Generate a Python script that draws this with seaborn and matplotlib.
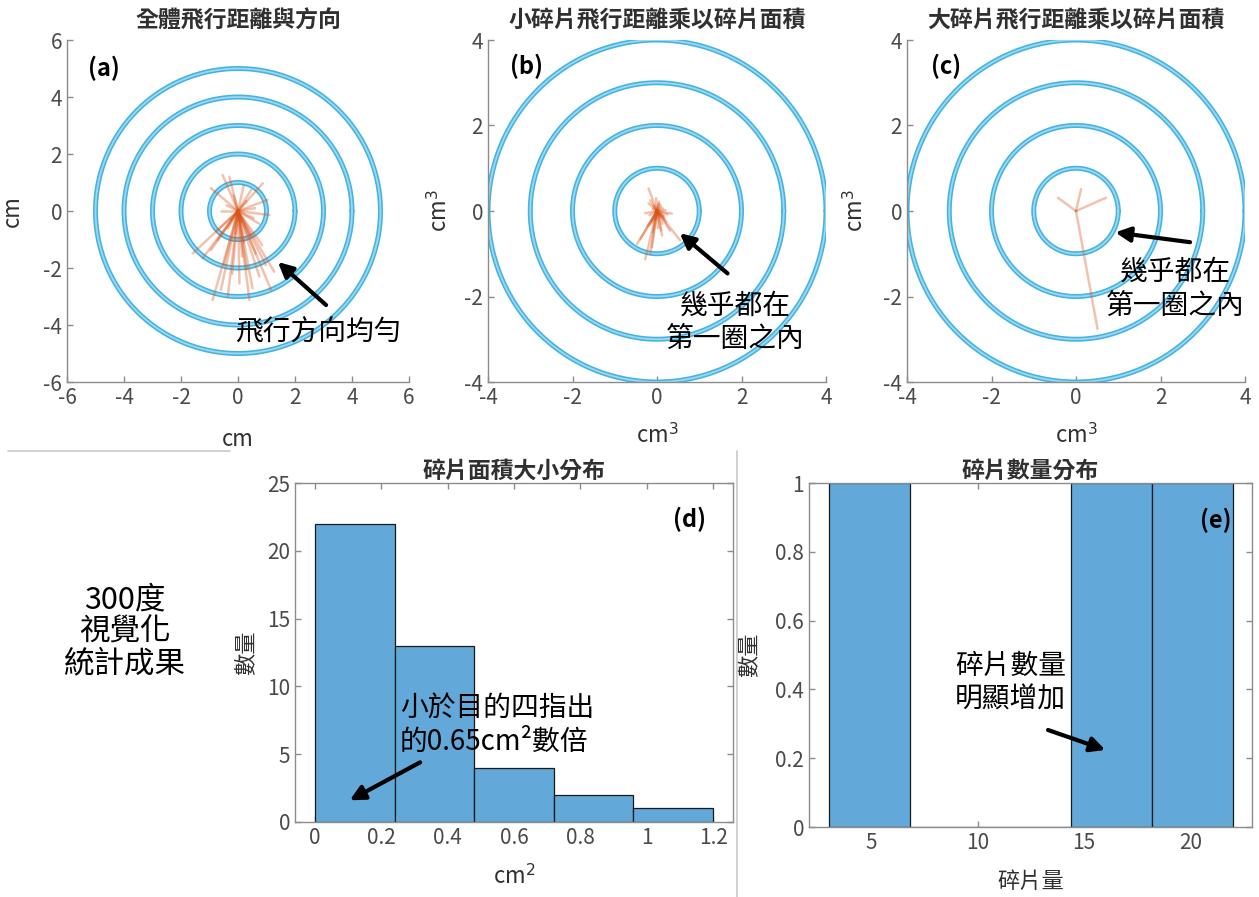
import numpy as np
import pandas as pd
import matplotlib
matplotlib.use("Agg")
import matplotlib.pyplot as plt
from matplotlib.ticker import FuncFormatter
from matplotlib.lines import Line2D
import seaborn as sns

sns.set_style("white")
plt.rcParams["font.family"] = ["Noto Sans CJK TC", "DejaVu Sans"]
plt.rcParams["mathtext.fontset"] = "dejavusans"

# ---- data ----
# (a) flight vectors of every fragment (cm)
all_dx = [-0.54, -0.30, -0.95, 0.87, -0.60, 1.10, 1.04, 0.46, -0.15, 0.30, -0.40, 0.60, 0.20, -0.25, 0.75,
          -1.59, -1.24, -0.89, -0.60, -0.36, 0.05, 0.40, 0.51, 0.75, 1.16, 1.27, 0.98, -0.71, -0.95,
          -0.50, -0.20, 0.15, 0.30, 0.62, 0.85, -0.10, 0.22, -0.35, 0.10, 0.45, -0.75, 0.55]
all_dy = [1.26, 1.20, 0.80, 0.97, 0.00, -0.14, 0.39, 0.74, 0.55, 0.35, 0.20, 0.10, 0.90, -0.30, -0.45,
          -1.49, -1.66, -3.12, -2.77, -3.00, -2.54, -3.12, -2.71, -2.30, -2.77, -2.13, -1.90, -1.02, -1.37,
          -1.90, -2.20, -1.60, -2.05, -1.50, -1.20, -0.80, -1.10, -0.60, -0.40, -0.90, -0.70, -0.25]

# (b) small fragments: distance x area (cm^3)
small_dx = [-0.20, -0.16, -0.28, 0.35, -0.47, -0.39, -0.28, -0.16, -0.12, 0.12, 0.55, 0.31, 0.04,
            0.10, -0.10, 0.15, -0.05, 0.20, -0.18, 0.05, 0.12, -0.12, 0.08, -0.22, 0.18, 0.02,
            -0.08, 0.25, -0.15, 0.06, 0.14, -0.04, 0.22, -0.20, 0.10, -0.02, 0.16, -0.10]
small_dy = [0.53, 0.25, -0.05, -0.06, -0.77, -0.65, -1.13, -1.00, -0.85, -0.57, -0.69, -0.46, 0.17,
            0.10, 0.05, -0.12, -0.20, 0.02, -0.10, 0.22, -0.30, -0.25, 0.15, -0.35, -0.18, -0.40,
            0.12, -0.08, -0.32, -0.15, 0.06, -0.05, -0.25, 0.18, -0.45, 0.30, -0.12, -0.50]

# (c) large fragments: distance x area (cm^3)
large_dx = [0.12, -0.43, 0.71, 0.51]
large_dy = [0.51, 0.31, 0.31, -2.76]

ring_radii_a = [1, 2, 3, 4, 5]
ring_radii_bc = [1, 2, 3, 4]

# (d) fragment areas (cm^2)
areas = [0.02, 0.03, 0.04, 0.05, 0.06, 0.07, 0.08, 0.09, 0.10, 0.11, 0.12, 0.13, 0.14, 0.15,
         0.16, 0.17, 0.18, 0.19, 0.20, 0.21, 0.22, 0.23,
         0.25, 0.27, 0.29, 0.31, 0.33, 0.35, 0.36, 0.38, 0.40, 0.42, 0.44, 0.45, 0.47,
         0.52, 0.58, 0.63, 0.69,
         0.78, 0.90,
         1.19]

# (e) number of fragments per trial
fragment_counts = [3, 17, 22]

titles = ["全體飛行距離與方向", "小碎片飛行距離乘以碎片面積", "大碎片飛行距離乘以碎片面積",
          "碎片面積大小分布", "碎片數量分布"]

# ---- figure ----
W, H = 1259, 897
fig = plt.figure(figsize=(W / 100, H / 100), dpi=100)


def box(l, t, r, b):
    return [l / W, 1 - b / H, (r - l) / W, (b - t) / H]


ax_a = fig.add_axes(box(67, 40, 409, 382))
ax_b = fig.add_axes(box(488, 40, 826, 382))
ax_c = fig.add_axes(box(907, 40, 1245, 382))
ax_d = fig.add_axes(box(295, 483, 733, 822))
ax_e = fig.add_axes(box(809, 483, 1252, 827))

TICK_COLOR = "#4a4a4a"
SPINE_COLOR = "#8c8c8c"
RAY_COLOR = "#D95319"
BAR_COLOR = "#62A8D8"


def fmt(v, _):
    return f"{v:g}"


def style_axes(ax, full_box):
    for side in ["left", "bottom", "top", "right"]:
        ax.spines[side].set_color(SPINE_COLOR)
        ax.spines[side].set_linewidth(1.0)
        ax.spines[side].set_visible(full_box or side in ("left", "bottom"))
    ax.tick_params(direction="in", length=4, width=1, colors=SPINE_COLOR,
                   labelcolor=TICK_COLOR, labelsize=15,
                   top=full_box, right=full_box, bottom=True, left=True)
    ax.xaxis.set_major_formatter(FuncFormatter(fmt))
    ax.yaxis.set_major_formatter(FuncFormatter(fmt))


theta = np.linspace(0, 2 * np.pi, 400)


def rings_and_rays(ax, radii, dxs, dys, lim):
    for r in radii:
        ax.plot(r * np.cos(theta), r * np.sin(theta), color="#45b3e0", lw=3.6, zorder=1)
        ax.plot(r * np.cos(theta), r * np.sin(theta), color="#9ad8f2", lw=1.3, zorder=1.1)
    for dx, dy in zip(dxs, dys):
        ax.plot([0, dx], [0, dy], color=RAY_COLOR, alpha=0.35, lw=1.8,
                solid_capstyle="round", zorder=2)
    ax.set_xlim(-lim, lim)
    ax.set_ylim(-lim, lim)
    ticks = np.arange(-lim, lim + 1, 2)
    ax.set_xticks(ticks)
    ax.set_yticks(ticks)


rings_and_rays(ax_a, ring_radii_a, all_dx, all_dy, 6)
rings_and_rays(ax_b, ring_radii_bc, small_dx, small_dy, 4)
rings_and_rays(ax_c, ring_radii_bc, large_dx, large_dy, 4)

title_kw = dict(fontsize=16.5, color="#303030", fontweight="bold")

for ax, t in zip([ax_a, ax_b, ax_c], titles[:3]):
    style_axes(ax, full_box=False)
    ax.set_title(t, pad=9, **title_kw)

label_kw = dict(fontsize=16, color="#303030")
ax_a.set_xlabel("cm", **label_kw)
ax_a.set_ylabel("cm", **label_kw)
ax_b.set_xlabel("cm$^3$", **label_kw)
ax_b.set_ylabel("cm$^3$", **label_kw)
ax_c.set_xlabel("cm$^3$", **label_kw)
ax_c.set_ylabel("cm$^3$", **label_kw)
ax_a.xaxis.set_label_coords(0.5, -0.135)
ax_a.yaxis.set_label_coords(-0.125, 0.5)
ax_b.xaxis.set_label_coords(0.5, -0.12)
ax_b.yaxis.set_label_coords(-0.105, 0.5)
ax_c.xaxis.set_label_coords(0.5, -0.12)
ax_c.yaxis.set_label_coords(-0.115, 0.5)

# ---- histograms ----
sns.histplot(x=pd.Series(areas), bins=5, binrange=(0, 1.2), stat="count", ax=ax_d,
             color=BAR_COLOR, alpha=1, edgecolor="#1a1a1a", linewidth=0.9)
ax_d.set_xlim(-0.06, 1.26)
ax_d.set_ylim(0, 25)
ax_d.set_xticks(np.arange(0, 1.21, 0.2))
ax_d.set_yticks(np.arange(0, 26, 5))

sns.histplot(x=pd.Series(fragment_counts), bins=5, binrange=(3, 22), stat="count", ax=ax_e,
             color=BAR_COLOR, alpha=1, edgecolor="#1a1a1a", linewidth=0.9)
ax_e.set_xlim(2.05, 22.9)
ax_e.set_ylim(0, 1)
ax_e.set_xticks([5, 10, 15, 20])
ax_e.set_yticks(np.arange(0, 1.01, 0.2))

for ax, t in zip([ax_d, ax_e], titles[3:]):
    style_axes(ax, full_box=True)
    ax.set_title(t, pad=4, **title_kw)
    ax.set_ylabel("數量", **label_kw)

ax_d.set_xlabel("cm$^2$", **label_kw)
ax_e.set_xlabel("碎片量", **label_kw)
ax_d.xaxis.set_label_coords(0.5, -0.125)
ax_d.yaxis.set_label_coords(-0.085, 0.5)
ax_e.xaxis.set_label_coords(0.5, -0.125)
ax_e.yaxis.set_label_coords(-0.11, 0.5)

# ---- panel tags ----
tag_kw = dict(fontsize=17, fontweight="bold", color="black", ha="center", va="center")
ax_a.text(-4.7, 5.0, "(a)", **tag_kw)
ax_b.text(-3.08, 3.37, "(b)", **tag_kw)
ax_c.text(-3.08, 3.37, "(c)", **tag_kw)
ax_d.text(1.13, 22.3, "(d)", **tag_kw)
ax_e.text(21.2, 0.89, "(e)", **tag_kw)

# ---- annotations ----
arrow = dict(arrowstyle="-|>", color="black", lw=3, mutation_scale=22, shrinkA=0, shrinkB=0)
note_kw = dict(fontsize=20, color="black", linespacing=1.15)

ax_a.annotate("", xy=(1.40, -1.79), xytext=(3.09, -3.30), arrowprops=arrow)
ax_a.text(2.81, -4.28, "飛行方向均勻", ha="center", va="center", **note_kw)

ax_b.annotate("", xy=(0.54, -0.52), xytext=(1.67, -1.46), arrowprops=arrow)
ax_b.text(1.84, -2.6, "幾乎都在\n第一圈之內", ha="center", va="center", **note_kw)

ax_c.annotate("", xy=(0.93, -0.50), xytext=(2.70, -0.73), arrowprops=arrow)
ax_c.text(2.35, -1.82, "幾乎都在\n第一圈之內", ha="center", va="center", **note_kw)

ax_d.annotate("", xy=(0.105, 1.6), xytext=(0.317, 4.4), arrowprops=arrow)
ax_d.text(0.256, 7.15, "小於目的四指出\n的0.65cm²數倍", ha="left", va="center", **note_kw)

ax_e.annotate("", xy=(16.0, 0.224), xytext=(13.3, 0.282), arrowprops=arrow)
ax_e.text(8.92, 0.42, "碎片數量\n明顯增加", ha="left", va="center", **note_kw)

fig.text(125 / W, 1 - 632 / H, "300度\n視覺化\n統計成果", ha="center", va="center",
         fontsize=22, color="black", linespacing=1.05)

# ---- separators ----
fig.add_artist(Line2D([8 / W, 230 / W], [1 - 451 / H, 1 - 451 / H], color="#c8c8c8", lw=1.2))
fig.add_artist(Line2D([737 / W, 737 / W], [1 - 451 / H, 0], color="#c8c8c8", lw=1.2))

fig.savefig("out.png", dpi=100)
